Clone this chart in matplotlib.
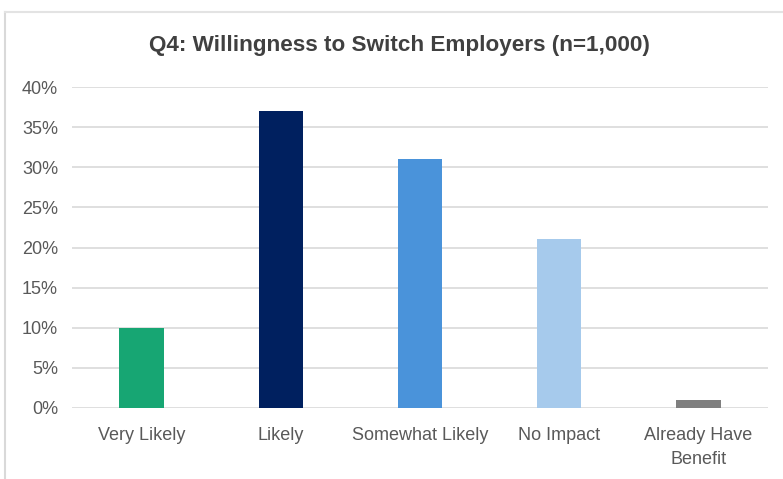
import matplotlib
matplotlib.use("Agg")
import matplotlib.pyplot as plt
import numpy as np
from matplotlib.lines import Line2D

categories = ["Very Likely", "Likely", "Somewhat Likely", "No Impact", "Already Have\nBenefit"]
values = [10, 37, 31, 21, 1]
colors = ["#17A673", "#00205F", "#4A93DA", "#A6CAEC", "#7F7F7F"]
yticks = [0, 5, 10, 15, 20, 25, 30, 35, 40]

plt.rcParams['font.family'] = ['Liberation Sans', 'DejaVu Sans']

fig = plt.figure(figsize=(7.83, 4.79), dpi=100)
ax = fig.add_axes([72/783, 1 - 408/479, 696/783, 321/479])

x = np.arange(len(categories))
ax.bar(x, values, width=0.32, color=colors, zorder=3)

ax.set_xlim(-0.5, len(categories) - 0.5)
ax.set_ylim(0, 40)
ax.set_yticks(yticks)
ax.set_yticklabels([f"{v}%" for v in yticks])
ax.set_xticks(x)
ax.set_xticklabels(categories, linespacing=1.5)
ax.grid(axis='y', color='#D9D9D9', linewidth=1.2, zorder=0)
for s in ax.spines.values():
    s.set_visible(False)
ax.tick_params(axis='both', length=0, labelsize=13, colors='#595959')
ax.tick_params(axis='x', pad=14)
ax.tick_params(axis='y', pad=10)

fig.text(399/783, 1 - 45/479, "Q4: Willingness to Switch Employers (n=1,000)",
         ha='center', va='center', fontsize=16.2, fontweight='bold', color='#404040')

# outer chart frame
fig.add_artist(Line2D([5/783, 5/783], [0, 1 - 12/479], transform=fig.transFigure,
                      color='#D9D9D9', linewidth=1.5))
fig.add_artist(Line2D([5/783, 1], [1 - 12/479, 1 - 12/479], transform=fig.transFigure,
                      color='#E3E3E3', linewidth=1.5))

fig.savefig("out.png", dpi=100)
